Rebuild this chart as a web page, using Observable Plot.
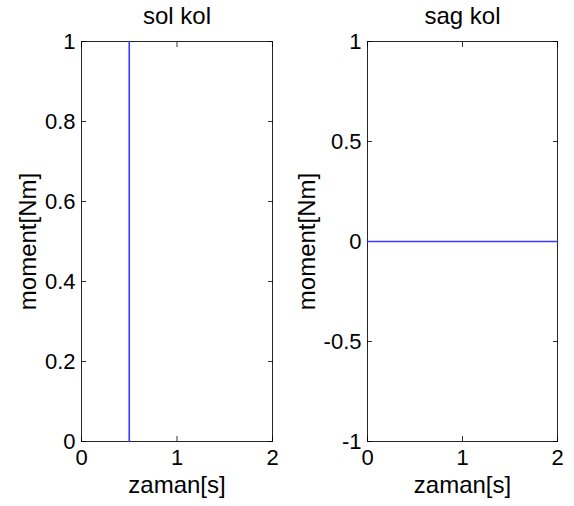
<!DOCTYPE html>
<html>
<head>
<meta charset="utf-8">
<script src="https://cdn.jsdelivr.net/npm/d3@7"></script>
<script src="https://cdn.jsdelivr.net/npm/@observablehq/plot@0.6"></script>
<style>
  html, body { margin: 0; padding: 0; background: #fff; }
  #wrap { display: flex; flex-direction: row; width: 574px; height: 506px; }
  svg { display: block; }
</style>
</head>
<body>
<div id="wrap"></div>
<script>
const titles = ["sol kol", "sag kol"];
const xLabel = "zaman[s]";
const yLabel = "moment[Nm]";
const xTicks = [0, 1, 2];
const leftYTicks = [0, 0.2, 0.4, 0.6, 0.8, 1];
const rightYTicks = [-1, -0.5, 0, 0.5, 1];
const leftT = [0.5, 0.5];
const leftM = [0, 1];
const rightT = [0, 2];
const rightM = [0, 0];

const font = "Liberation Sans, Arial, sans-serif";
const fmt = d => String(d);

function panel({title, t, m, xDomain, yDomain, yTicks, width, margins, labelDx}) {
  const data = t.map((v, i) => ({t: v, m: m[i]}));
  return Plot.plot({
    width, height: 506,
    marginLeft: margins[0], marginRight: margins[1], marginTop: 41, marginBottom: 65,
    style: {fontFamily: font, background: "#fff", color: "#000"},
    x: {domain: xDomain, ticks: xTicks},
    y: {domain: yDomain, ticks: yTicks},
    marks: [
      Plot.frame({stroke: "#000", strokeOpacity: 0.85}),
      Plot.axisX(xTicks, {anchor: "bottom", tickSize: -5, text: null, label: null, strokeOpacity: 0.8}),
      Plot.axisX(xTicks, {anchor: "top", tickSize: -5, text: null, label: null, strokeOpacity: 0.8}),
      Plot.axisY(yTicks, {anchor: "left", tickSize: -5, text: null, label: null, strokeOpacity: 0.8}),
      Plot.axisY(yTicks, {anchor: "right", tickSize: -5, text: null, label: null, strokeOpacity: 0.8}),
      Plot.lineY(data, {x: "t", y: "m", stroke: "#3a3aff", strokeWidth: 1.6}),
      Plot.axisX(xTicks, {anchor: "bottom", tickSize: 0, tickPadding: 8, fontSize: 22, tickFormat: fmt, label: null}),
      Plot.axisY(yTicks, {anchor: "left", tickSize: 0, tickPadding: 6, fontSize: 22, tickFormat: fmt, label: null}),
      Plot.text([title], {frameAnchor: "top", lineAnchor: "bottom", dy: -18, fontSize: 24, fill: "#000"}),
      Plot.text([xLabel], {frameAnchor: "bottom", lineAnchor: "bottom", dy: 51, fontSize: 24, fill: "#000"}),
      Plot.text([yLabel], {frameAnchor: "left", textAnchor: "middle", rotate: -90, lineAnchor: "middle", dx: labelDx, fontSize: 24, fill: "#000"})
    ]
  });
}

const wrap = document.getElementById("wrap");
wrap.appendChild(panel({title: titles[0], t: leftT, m: leftM, xDomain: [0, 2], yDomain: [0, 1], yTicks: leftYTicks, width: 287, margins: [81, 15], labelDx: -53}));
wrap.appendChild(panel({title: titles[1], t: rightT, m: rightM, xDomain: [0, 2], yDomain: [-1, 1], yTicks: rightYTicks, width: 287, margins: [80, 17], labelDx: -60}));
</script>
</body>
</html>
